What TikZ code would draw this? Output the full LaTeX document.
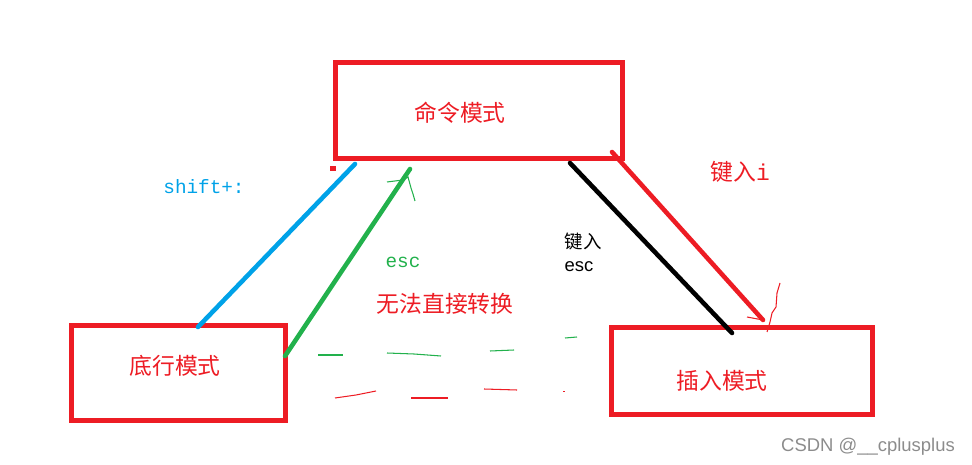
\documentclass[tikz,border=0pt]{standalone}
\usepackage{fontspec}
\usepackage{xcolor}
\usepackage{tikz}
\usetikzlibrary{positioning}
\newfontfamily\cjk{Noto Sans CJK SC}
\newfontfamily\monof{Liberation Mono}
\newfontfamily\latinf{Liberation Sans}
\definecolor{pred}{RGB}{237,28,36}
\definecolor{pblue}{RGB}{0,162,232}
\definecolor{pgreen}{RGB}{34,177,76}

\begin{document}
\begin{tikzpicture}[x=0.02cm,y=-0.02cm,
    modebox/.style={draw=pred, line width=2.85pt, inner sep=0pt},
    modetext/.style={text=pred, font=\cjk\fontsize{13}{15}\selectfont},
    stroke/.style={line width=2.6pt, line cap=round},
    scribble/.style={line width=0.6pt}
]
\useasboundingbox (0,0) rectangle (972,465);

% Modes
\node[modebox, minimum width=5.74cm, minimum height=1.92cm] (cmd) at (479,110.5){};
\node[modebox, minimum width=4.28cm, minimum height=1.9cm] (low) at (178.5,373){};
\node[modebox, minimum width=5.22cm, minimum height=1.74cm] (ins) at (742,371){};
\node[modetext] (cmdt) at (460,113){命令模式};
\node[modetext] (lowt) at (175,366){底行模式};
\node[modetext] (inst) at (722,381){插入模式};

% Ends of the strokes
\coordinate (b1) at (355,164);
\coordinate (b2) at (198,327);
\coordinate (g1) at (410,169);
\coordinate (g2) at (285,356);
\coordinate (k1) at (570,163);
\coordinate (k2) at (732,333);
\coordinate (r1) at (612,152);
\coordinate (r2) at (763,320);

\draw[stroke, pblue](b1)--(b2);
\draw[stroke, pgreen](g1)--(g2);
\draw[stroke, black](k1)--(k2);
\draw[stroke, pred](r1)--(r2);

% Hand drawn tips
\draw[scribble, pgreen](387,182)--(403,180)--(408,177)--(411,188)--(413,194)--(415,201);
\draw[scribble, pred](747,317)--(763,320);
\draw[scribble, pred](780,283)--(777,293)--(776,307)--(772,313)--(770,322)--(767,332);
\fill[pred](330,166) rectangle (336,171);

% Labels
\node[text=pblue, font=\monof\fontsize{11}{13}\selectfont] (shiftl) at (204,187){shift+:};
\node[text=pgreen, font=\monof\fontsize{11}{13}\selectfont] (escl) at (403,262){esc};
\node[text=pred, font=\cjk\fontsize{13}{15}\selectfont] (keyi) at (740,172){键入\monof i};
\node[font=\cjk\fontsize{10.5}{12}\selectfont, align=left] (keyesc) at (583,252){键入\\[1pt]{\latinf esc}};
\node[text=pred, font=\cjk\fontsize{13}{15}\selectfont] (nodirect) at (445,304){无法直接转换};

% Dashes
\draw[scribble, pgreen](318,355)--(343,355);
\draw[scribble, pgreen](387,353)--(414,354)--(441,356);
\draw[scribble, pgreen](490,351)--(514,350);
\draw[scribble, pgreen](565,338)--(577,337);
\draw[scribble, pred](335,398)--(356,395)--(376,391);
\draw[scribble, pred](411,398)--(448,398);
\draw[scribble, pred](484,389)--(517,390);
\fill[pred](563,390.5) rectangle (565,391.5);

\node[text=black!45, font=\latinf\fontsize{10.5}{12}\selectfont] (mark) at (868,447){CSDN @\_\_cplusplus};
\end{tikzpicture}
\end{document}
